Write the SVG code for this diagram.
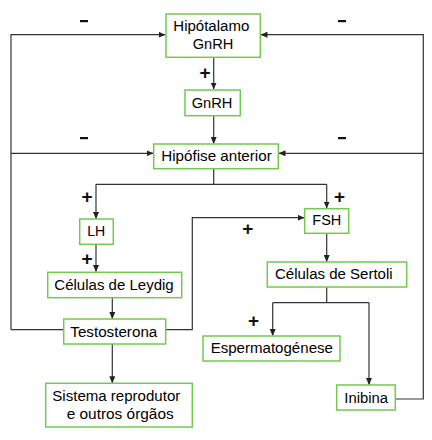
<svg xmlns="http://www.w3.org/2000/svg" width="432" height="440" viewBox="0 0 432 440">
<defs>
<marker id="ah" markerWidth="7" markerHeight="6" refX="6.5" refY="3" orient="auto" markerUnits="userSpaceOnUse">
<path d="M0,0 L7,3 L0,6 Z" fill="#222"/>
</marker>
</defs>
<style>
.box{fill:#fff;stroke:#74c94f;stroke-width:1.5}
.t{font-family:"Liberation Sans",Arial,sans-serif;font-size:14px;fill:#000;text-anchor:middle}
.c{fill:none;stroke:#333;stroke-width:1.2}
.a{marker-end:url(#ah)}
.s{font-family:"Liberation Sans",Arial,sans-serif;font-size:19px;font-weight:bold;fill:#111;text-anchor:middle}
</style>
<rect width="432" height="440" fill="#fff"/>
<g id="connectors">
<path class="c a" d="M213.7,57.3 V89"/>
<path class="c a" d="M213.7,115.7 V143.5"/>
<path class="c a" d="M11,329.7 V34.7 H165"/>
<path class="c a" d="M395.3,399 H423.3 V34.7 H261"/>
<path class="c a" d="M11,153.3 H153"/>
<path class="c a" d="M423.3,153.3 H279"/>
<path class="c" d="M213.7,168.7 V184.3 M96,184.3 H326.7"/>
<path class="c a" d="M96,184.3 V218.5"/>
<path class="c a" d="M326.7,184.3 V208"/>
<path class="c a" d="M96,244.3 V271.5"/>
<path class="c a" d="M326.7,233.3 V261.5"/>
<path class="c a" d="M112.3,297.7 V318.5"/>
<path class="c" d="M63.7,329.7 H11"/>
<path class="c a" d="M165.7,329.7 H192.3 V217.7 H304"/>
<path class="c a" d="M112.3,344 V382.8"/>
<path class="c" d="M326.7,287 V302.7 M272.7,302.7 H369"/>
<path class="c a" d="M272.7,302.7 V335.5"/>
<path class="c a" d="M369,302.7 V384.5"/>
</g>
<g id="signs">
<rect x="80" y="20" width="8" height="2.2" fill="#111"/>
<rect x="338" y="20" width="8" height="2.2" fill="#111"/>
<rect x="80" y="137" width="8" height="2.2" fill="#111"/>
<rect x="338" y="137" width="8" height="2.2" fill="#111"/>
<text class="s" x="205" y="79">+</text>
<text class="s" x="87" y="202.5">+</text>
<text class="s" x="339.5" y="202.5">+</text>
<text class="s" x="247.7" y="235">+</text>
<text class="s" x="87" y="264.5">+</text>
<text class="s" x="253.5" y="326.5">+</text>
</g>
<g id="hipotalamo">
<rect class="box" x="166" y="14" width="94.3" height="43.3"/>
<text class="t" x="211.3" y="31" textLength="76" lengthAdjust="spacingAndGlyphs">Hipótalamo</text>
<text class="t" x="213" y="49.3" textLength="40.6" lengthAdjust="spacingAndGlyphs">GnRH</text>
</g>
<g id="gnrh">
<rect class="box" x="185" y="90" width="55.3" height="25.7"/>
<text class="t" x="212" y="107.7" textLength="40.6" lengthAdjust="spacingAndGlyphs">GnRH</text>
</g>
<g id="hipofise">
<rect class="box" x="153.7" y="144" width="124.6" height="24.7"/>
<text class="t" x="216.5" y="160.7" textLength="110.4" lengthAdjust="spacingAndGlyphs">Hipófise anterior</text>
</g>
<g id="lh">
<rect class="box" x="79.7" y="219" width="33.6" height="25.3"/>
<text class="t" x="96.3" y="236" textLength="18" lengthAdjust="spacingAndGlyphs">LH</text>
</g>
<g id="fsh">
<rect class="box" x="304.7" y="208.7" width="44" height="24.6"/>
<text class="t" x="326.8" y="225.3" textLength="29" lengthAdjust="spacingAndGlyphs">FSH</text>
</g>
<g id="leydig">
<rect class="box" x="47.7" y="272.3" width="134" height="25.4"/>
<text class="t" x="114" y="290" textLength="119.4" lengthAdjust="spacingAndGlyphs">Células de Leydig</text>
</g>
<g id="sertoli">
<rect class="box" x="267.3" y="262" width="139.4" height="25"/>
<text class="t" x="333.8" y="279.3" textLength="117.7" lengthAdjust="spacingAndGlyphs">Células de Sertoli</text>
</g>
<g id="testosterona">
<rect class="box" x="63.7" y="319" width="102" height="25"/>
<text class="t" x="113.8" y="336.7" textLength="87" lengthAdjust="spacingAndGlyphs">Testosterona</text>
</g>
<g id="espermatogenese">
<rect class="box" x="203" y="336" width="137" height="25"/>
<text class="t" x="271.8" y="353" textLength="122.3" lengthAdjust="spacingAndGlyphs">Espermatogénese</text>
</g>
<g id="sistema">
<rect class="box" x="45.7" y="383.3" width="146.6" height="43.7"/>
<text class="t" x="116.3" y="401" textLength="128" lengthAdjust="spacingAndGlyphs">Sistema reprodutor</text>
<text class="t" x="120.2" y="419" textLength="107" lengthAdjust="spacingAndGlyphs">e outros órgãos</text>
</g>
<g id="inibina">
<rect class="box" x="336.7" y="385" width="58.6" height="25"/>
<text class="t" x="366.2" y="402.7" textLength="43.7" lengthAdjust="spacingAndGlyphs">Inibina</text>
</g>
</svg>
